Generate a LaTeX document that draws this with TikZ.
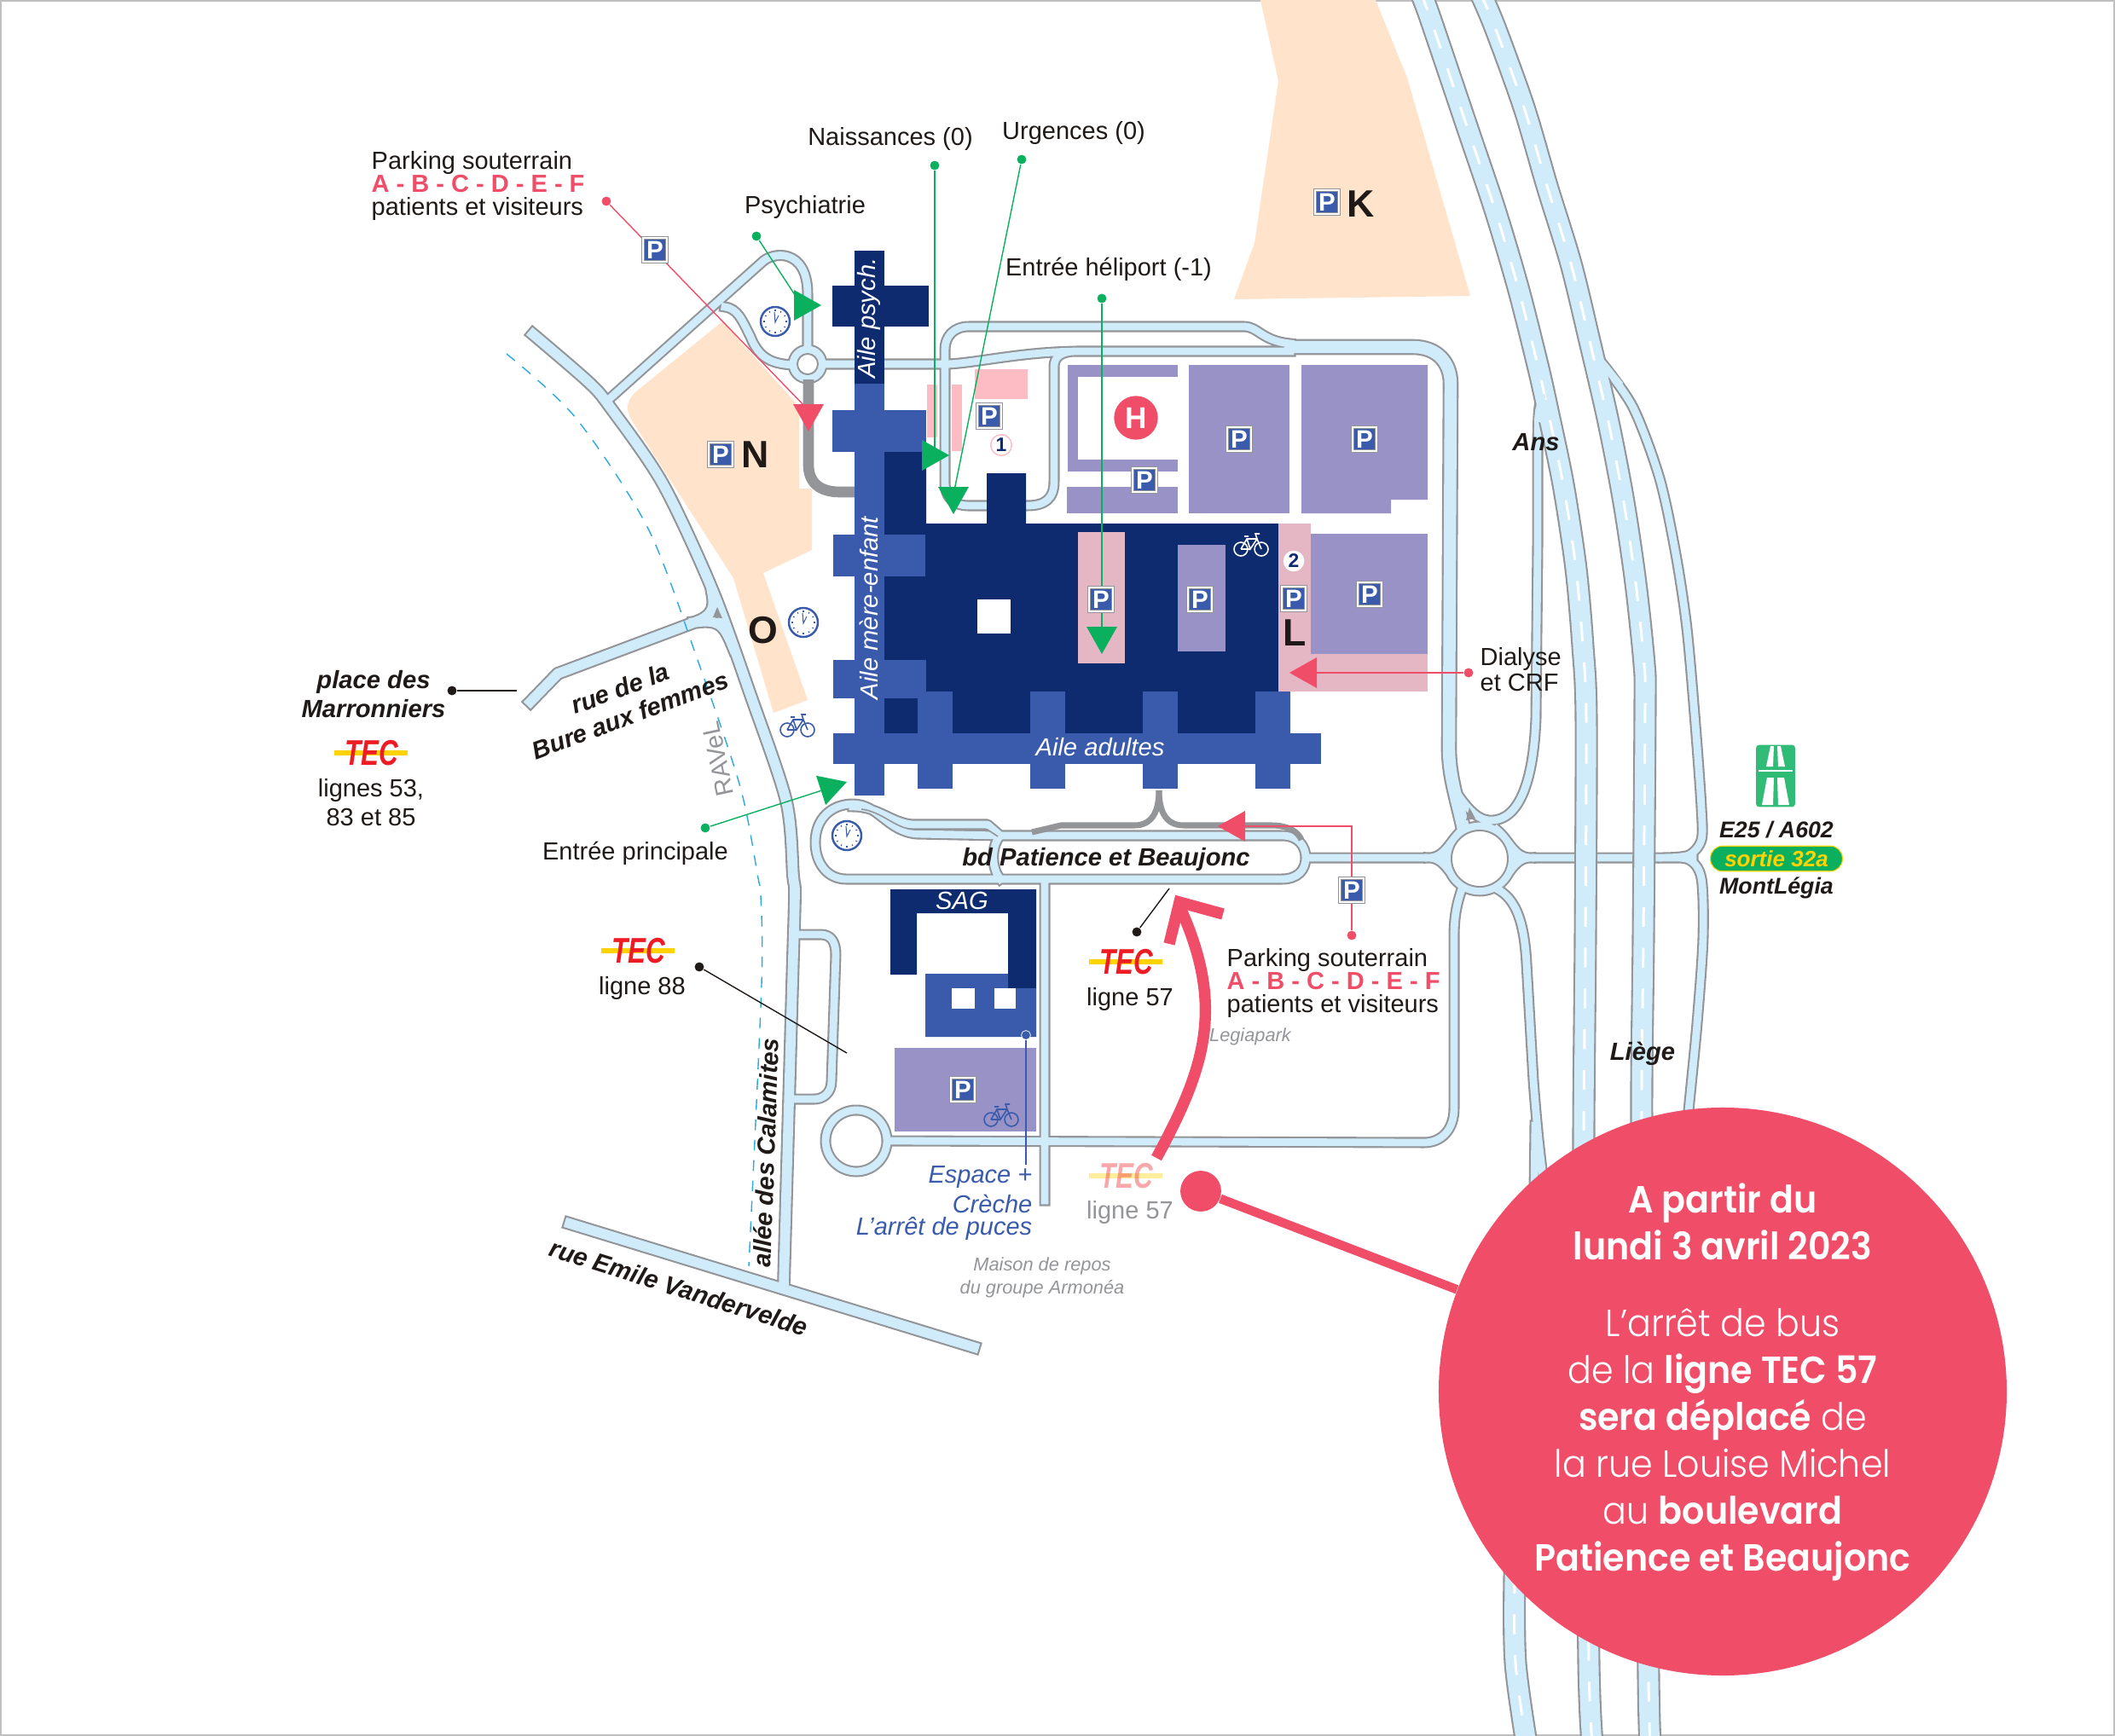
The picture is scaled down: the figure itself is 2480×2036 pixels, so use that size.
\documentclass[tikz,border=0pt]{standalone}
\usepackage{fontspec}
\setmainfont{Liberation Sans}
\newfontfamily\circlefont[FakeStretch=0.93, UprightFont={* Light}, BoldFont={* SemiBold}]{Poppins}
\usetikzlibrary{shapes, arrows.meta}
\definecolor{roadblue}{HTML}{D0EBFA}
\definecolor{roadgray}{HTML}{939598}
\definecolor{navywing}{HTML}{0D2B6E}
\definecolor{bluewing}{HTML}{3A5BAB}
\definecolor{lilac}{HTML}{9892C6}
\definecolor{rosewing}{HTML}{E5B7C5}
\definecolor{softpink}{HTML}{FDBBC4}
\definecolor{beige}{HTML}{FFE3CB}
\definecolor{redder}{HTML}{F04E68}
\definecolor{greener}{HTML}{0BB05F}
\definecolor{inkblack}{HTML}{1F1A17}
\definecolor{ravelblue}{HTML}{29ABE2}
\definecolor{tecyellow}{HTML}{FFD200}
\definecolor{tecred}{HTML}{ED1C24}
\newcommand\narrowroads{
  (712,470) -- (893,308) .. controls (905,295) and (947,290) .. (947,345) -- (947,427)
  (850,360) .. controls (865,362) and (870,375) .. (880,395) .. controls (890,420) and (905,428) .. (935,428)
  (947,427) circle (17)
  (947,427) -- (1112,427) .. controls (1150,425) and (1200,412) .. (1270,412) -- (1513,412)
  (1513,403) .. controls (1480,400) and (1475,383) .. (1459,383) -- (1136,383) .. controls (1118,383) and (1108,395) .. (1108,410) -- (1108,565) .. controls (1108,585) and (1120,593) .. (1135,593) -- (1205,593) .. controls (1225,593) and (1236,585) .. (1236,565) -- (1236,430) .. controls (1236,418) and (1245,412) .. (1262,412)
  (1173,980) -- (1503,980) .. controls (1522,980) and (1531,992) .. (1531,1006) .. controls (1531,1020) and (1522,1031) .. (1503,1031) -- (992,1031) .. controls (970,1031) and (956,1012) .. (956,988) .. controls (956,960) and (975,943) .. (1000,943) .. controls (1030,943) and (1040,975) .. (1075,978) -- (1173,980)
  (1173,980) .. controls (1162,992) and (1162,1018) .. (1173,1031)
  (1000,946) .. controls (1030,946) and (1045,965) .. (1070,967) -- (1158,967) -- (1173,980)
  (1531,1006) -- (1985,1006)
  (1735,1007) circle (38)
  (1795,1006) .. controls (1775,1006) and (1770,985) .. (1755,973)
  (1795,1006) .. controls (1775,1006) and (1770,1028) .. (1755,1040)
  (1675,1006) .. controls (1695,1006) and (1700,985) .. (1715,973)
  (1675,1006) .. controls (1695,1006) and (1700,1028) .. (1715,1040)
  (1715,1040) .. controls (1708,1060) and (1705,1075) .. (1705,1100) -- (1705,1300) .. controls (1705,1325) and (1690,1340) .. (1670,1340) -- (1040,1338)
  (1750,1040) .. controls (1775,1050) and (1787,1075) .. (1790,1130) -- (1798,1267) .. controls (1802,1320) and (1806,1360) .. (1812,1400)
  (1800,1320) -- (1799,1400)
  (1004,1338) circle (36)
  (1225,1031) -- (1225,1408)
  (937,1096) -- (962,1096) .. controls (975,1096) and (980,1105) .. (980,1120) -- (975,1268) .. controls (975,1282) and (965,1289) .. (955,1289) -- (925,1289)
  (1808,462) .. controls (1803,480) and (1803,500) .. (1803,560) -- (1803,640) -- (1801,842) .. controls (1798,920) and (1780,965) .. (1745,962) .. controls (1730,960) and (1718,945) .. (1705,925)
  plot[smooth] coordinates {(1878,425) (1915,478) (1946,561) (1965,650) (1978,737) (1988,850) (1995,947) (1995,985) (1980,1003) (1950,1006)}
  plot[smooth] coordinates {(1950,1006) (1980,1008) (1995,1030) (1997,1100) (1990,1200) (1980,1303) (1975,1360)}
}
\newcommand\mediumroads{
  plot[smooth] coordinates {(625,392) (690,448) (715,477) (777,567) (835,691) (880,815) (922,940) (930,1027) (932,1050) (929,1155) (919,1506)}
  (622,823) -- (654,790) -- (814,730) .. controls (838,722) and (838,710) .. (835,695)
  (814,730) .. controls (845,725) and (850,735) .. (860,760)
  (668,1435) -- (1142,1580)
}
\newcommand\wideroads{
  (1513,407) -- (1657,407) .. controls (1685,407) and (1701,425) .. (1701,450) -- (1699,877) .. controls (1699,910) and (1708,935) .. (1716,972)
}
\newcommand\hwaylanes{
  plot[smooth] coordinates {(1665,-10) (1676,18) (1721,151) (1753,246) (1780,337) (1803,428) (1814,477) (1833,568) (1848,667) (1856,758) (1860,842) (1859,1100) (1857,1350) (1860,1600) (1863,1950) (1867,2045)}
  plot[smooth] coordinates {(1735,-10) (1753,32) (1787,126) (1814,218) (1842,309) (1864,400) (1886,495) (1904,589) (1918,684) (1928,779) (1929,828) (1927,1100) (1925,1317) (1930,1600) (1933,1967) (1935,2045)}
  plot[smooth] coordinates {(1780,1750) (1776,1850) (1777,1950) (1790,2045)}
}
\tikzset{
  roadedge/.style={draw=roadgray, line cap=rect, line join=round},
  roadfill/.style={draw=roadblue, line cap=rect, line join=round},
  lanemark/.style={draw=white, line width=.85pt, dash pattern=on 6.6pt off 7pt},
  pbox/.style={draw=roadgray, line width=.25pt, double=white, double distance=.7pt, fill=bluewing, text=white, inner sep=0, minimum size=8pt, font=\fontsize{8.4}{8.4}\selectfont\bfseries},
  maptext/.style={text=inkblack, inner sep=0, align=center, font=\fontsize{8.25}{7.6}\selectfont},
  street/.style={text=inkblack, inner sep=0, align=center, font=\fontsize{8.3}{9.6}\selectfont\bfseries\itshape},
  signtext/.style={text=inkblack, inner sep=0, font=\fontsize{7.6}{7.6}\selectfont\bfseries\itshape},
  wing/.style={text=white, inner sep=0, font=\fontsize{8.3}{8.3}\selectfont\itshape},
  zone/.style={text=inkblack, inner sep=0, font=\fontsize{12.7}{12.7}\selectfont\bfseries},
  greytext/.style={text=roadgray, inner sep=0, align=center, font=\fontsize{6.2}{7.6}\selectfont\itshape},
  leadgreen/.style={draw=greener, line width=.4pt},
  leadred/.style={draw=redder, line width=.4pt},
  leadblack/.style={draw=inkblack, line width=.4pt},
  spot/.style={circle, inner sep=0, minimum size=3.1pt, fill=#1},
  head/.pic={\fill[pic actions] (0,0) -- (-32,18) -- (-32,-18) -- cycle;},
  teclogo/.pic={
    \fill[tecyellow] (-43,-3) rectangle (43,3);
    \node[xscale=.75, inner sep=0, text=tecred, font=\fontsize{11.9}{11.9}\selectfont\bfseries\itshape] at (1,0) {TEC};},
  bike/.pic={
    \draw[pic actions, line width=.45pt] (-12,6) circle (8) (12,6) circle (8) (-12,6) -- (-5,-6) -- (7,-6) -- (12,6) (-5,-6) -- (-1,6) -- (7,-6) (-1,6) -- (-12,6) (7,-6) -- (5,-12) -- (10,-12) (-8,-9) -- (-3,-9);},
  clock/.pic={
    \draw[draw=bluewing, fill=white, line width=.7pt] (0,0) circle (17);
    \foreach \a in {0,30,...,330} {\draw[bluewing, line width=.3pt] (\a:12) -- (\a:14);}
    \draw[bluewing, line width=.3pt] (-1,-11) -- (0,1) -- (4,-7);},
}
\begin{document}
\begin{tikzpicture}[x=.01cm, y=-.01cm]
  \useasboundingbox (0,0) rectangle (2480,2036);
  \draw[draw=black!25, fill=white, line width=.4pt] (1,1) rectangle (2479,2035);

  \fill[beige] (1478,0) -- (1613,0) -- (1650,91) -- (1724,347) -- (1447,351) -- (1471,285) -- (1499,95) -- cycle;
  \fill[beige] (847,377) -- (937,477) -- (937,573) -- (952,573) -- (952,645) -- (895,672) -- (947,821) -- (907,836) -- (860,678) -- (742,495) .. controls (732,480) and (735,470) .. (745,460) -- cycle;

  \draw[roadedge, line width=3.7pt] \narrowroads;
  \draw[roadedge, line width=4.5pt] \mediumroads;
  \draw[roadedge, line width=5.3pt] \wideroads;
  \draw[roadfill, line width=2.5pt] \narrowroads;
  \draw[roadfill, line width=3.3pt] \mediumroads;
  \draw[roadfill, line width=4.1pt] \wideroads;
  \fill[roadblue] (1795,1006) .. controls (1775,1006) and (1770,985) .. (1755,973) -- (1755,1040) .. controls (1770,1028) and (1775,1006) .. (1795,1006) -- cycle;
  \fill[roadblue] (1675,1006) .. controls (1695,1006) and (1700,985) .. (1715,973) -- (1715,1040) .. controls (1700,1028) and (1695,1006) .. (1675,1006) -- cycle;
  \draw[draw=roadgray, fill=white, line width=.55pt] (1735,1007) circle (33);
  \draw[draw=roadgray, fill=white, line width=.55pt] (947,427) circle (12);
  \draw[roadgray, line width=.45pt] (1010,949) .. controls (1035,952) and (1050,972) .. (1072,973) -- (1158,973) -- (1170,981);
  \fill[roadgray] (1719,962) -- (1723,947) -- (1730,960) -- cycle;
  \fill[roadgray] (836,724) -- (841,712) -- (847,725) -- cycle;

  \draw[draw=roadgray, line width=7.7pt] \hwaylanes;
  \draw[draw=roadblue, line width=6.5pt] \hwaylanes;
  \draw[lanemark] \hwaylanes;
  \draw[draw=roadblue, line width=2.5pt] (1878,425) -- (1900,452);
  \draw[draw=roadblue, line width=2.5pt] (1808,462) -- (1803,495);

  \draw[draw=roadgray, line width=3.6pt, line join=round] (948,445) -- (948,545) .. controls (948,565) and (960,577) .. (985,577) -- (1002,577);
  \draw[draw=roadgray, line width=2pt] (1359,927) .. controls (1359,950) and (1352,968) .. (1330,968) -- (1244,968) -- (1210,976);
  \draw[draw=roadgray, line width=2pt] (1359,927) .. controls (1359,950) and (1366,968) .. (1388,968) -- (1491,968) .. controls (1510,968) and (1522,975) .. (1526,985);

  \draw[draw=ravelblue, line width=.4pt, dash pattern=on 3.6pt off 3.2pt] plot[smooth] coordinates {(594,415) (675,490) (760,620) (818,774) (868,923) (889,1030) (892,1050) (893,1155) (878,1485)};

  \fill[softpink] (1087,451) rectangle (1099,513);
  \fill[softpink] (1116,451) rectangle (1128,529);
  \fill[softpink] (1143,433) rectangle (1205,468);
  \fill[lilac] (1252,428) rectangle (1381,442);
  \fill[lilac] (1252,428) rectangle (1264,553);
  \fill[lilac] (1252,539) rectangle (1381,553);
  \fill[lilac] (1251,571) rectangle (1381,602);
  \fill[lilac] (1394,428) rectangle (1512,602);
  \fill[lilac] (1526,428) -- (1674,428) -- (1674,586) -- (1631,586) -- (1631,602) -- (1526,602) -- cycle;

  \fill[navywing] (1037,530) -- (1086,530) -- (1086,614) -- (1157,614) -- (1157,555) -- (1203,555) -- (1203,614) -- (1499,614) -- (1499,811) -- (1472,811) -- (1472,860) -- (1037,860) -- cycle;
  \fill[bluewing] (977,860) rectangle (1549,896);
  \fill[bluewing] (1002,450) rectangle (1037,933);
  \fill[bluewing] (976,481) rectangle (1086,530);
  \fill[bluewing] (977,627) rectangle (1085,676);
  \fill[bluewing] (977,774) rectangle (1086,819);
  \foreach \colx in {1076,1208,1340,1472} {\fill[bluewing] (\colx,811) rectangle (\colx+41,925);}
  \fill[navywing] (1038,819) rectangle (1076,860);
  \fill[navywing] (1002,294) rectangle (1037,450);
  \fill[navywing] (976,335) rectangle (1089,383);
  \fill[white] (1146,703) rectangle (1185,743);
  \fill[rosewing] (1264,624) rectangle (1319,778);
  \fill[lilac] (1381,639) rectangle (1437,764);
  \fill[rosewing] (1499,614) rectangle (1537,811);
  \fill[lilac] (1537,626) rectangle (1674,767);
  \fill[rosewing] (1537,767) rectangle (1674,811);

  \fill[navywing] (1044,1043) -- (1215,1043) -- (1215,1159) -- (1182,1159) -- (1182,1071) -- (1075,1071) -- (1075,1143) -- (1044,1143) -- cycle;
  \fill[bluewing] (1085,1142) -- (1182,1142) -- (1182,1159) -- (1215,1159) -- (1215,1216) -- (1085,1216) -- cycle;
  \fill[white] (1116,1159) rectangle (1143,1183);
  \fill[white] (1166,1159) rectangle (1191,1183);
  \fill[lilac] (1049,1229) rectangle (1215,1327);

  \node[circle, fill=redder, text=white, inner sep=0, minimum size=14.6pt, font=\fontsize{10}{10}\selectfont\bfseries] (hosp) at (1332,490) {H};

  \node[spot=greener] (dotnaiss) at (1096,194) {};
  \node[spot=greener] (doturg) at (1198,187) {};
  \node[spot=greener] (dotpsy) at (887,277) {};
  \node[spot=greener] (dothelip) at (1292,350) {};
  \node[spot=greener] (dotmain) at (827,971) {};
  \node[spot=redder] (dotnorth) at (711,236) {};
  \node[spot=redder] (dotsouth) at (1585,1097) {};
  \node[spot=redder] (dotdial) at (1722,789) {};
  \node[spot=inkblack] (dotplace) at (530,810) {};
  \node[spot=inkblack] (dotl88) at (820,1134) {};
  \node[spot=inkblack] (dotl57) at (1333,1093) {};
  \node[spot=bluewing, draw=white, line width=.2pt] (dotesp) at (1203,1214) {};
  \coordinate (tipnaiss) at (1096,532);
  \coordinate (tipurg) at (1118,580);
  \coordinate (tippsy) at (940,358);
  \coordinate (tiphelip) at (1292,740);
  \coordinate (tipmain) at (970,925);
  \coordinate (tipnorth) at (947,480);
  \coordinate (elbsouth) at (1585,969);
  \coordinate (tipsouth) at (1445,969);
  \coordinate (tipdial) at (1530,789);
  \coordinate (endplace) at (606,810);
  \coordinate (endl88) at (993,1235);
  \coordinate (endl57) at (1371,1042);
  \coordinate (endesp) at (1203,1366);

  \draw[leadgreen] (dotnaiss) -- (tipnaiss);
  \draw[leadgreen] (doturg) -- (tipurg);
  \draw[leadgreen] (dotpsy) -- (tippsy);
  \draw[leadgreen] (dothelip) -- (tiphelip);
  \draw[leadgreen] (dotmain) -- (tipmain);
  \draw[leadred] (dotnorth) -- (tipnorth);
  \draw[leadred] (dotsouth) -- (elbsouth) -- (tipsouth);
  \draw[leadred] (dotdial) -- (tipdial);
  \draw[leadblack] (dotplace) -- (endplace);
  \draw[leadblack] (dotl88) -- (endl88);
  \draw[leadblack] (dotl57) -- (endl57);
  \draw[draw=bluewing, line width=.5pt] (dotesp) -- (endesp);

  \pic[fill=greener] at (1113,534) {head};
  \pic[fill=greener, rotate=-90] at (1118,603) {head};
  \pic[fill=greener] at (963,358) {head};
  \pic[fill=greener, rotate=-90] at (1292,767) {head};
  \pic[fill=greener, rotate=18] at (993,917) {head};
  \pic[fill=redder, rotate=-90] at (948,506) {head};
  \pic[fill=redder, rotate=180] at (1428,969) {head};
  \pic[fill=redder, rotate=180] at (1512,789) {head};

  \node[pbox] (pnorth) at (768,293) {P};
  \node[pbox] (pn) at (845,533) {P};
  \node[pbox] (pk) at (1556,237) {P};
  \node[pbox] (pone) at (1160,488) {P};
  \node[pbox] (phosp) at (1342,563) {P};
  \node[pbox] (pa) at (1453,515) {P};
  \node[pbox] (pb) at (1600,515) {P};
  \node[pbox] (pc) at (1291,703) {P};
  \node[pbox] (pd) at (1407,703) {P};
  \node[pbox] (pe) at (1517,702) {P};
  \node[pbox] (pf) at (1606,697) {P};
  \node[pbox] (psouth) at (1585,1044) {P};
  \node[pbox] (psag) at (1129,1278) {P};

  \node[zone] (zonen) at (886,533) {N};
  \node[zone] (zonek) at (1596,239) {K};
  \node[zone] (zoneo) at (895,739) {O};
  \node[zone] (zonel) at (1518,742) {L};

  \node[circle, draw=softpink, fill=white, line width=.4pt, inner sep=0, minimum size=7pt, text=navywing, font=\fontsize{6.5}{6.5}\selectfont\bfseries] (numone) at (1174,522) {1};
  \node[circle, fill=white, inner sep=0, minimum size=7pt, text=navywing, font=\fontsize{6.5}{6.5}\selectfont\bfseries] (numtwo) at (1517,658) {2};

  \pic[draw=white] at (1467,638) {bike};
  \pic[draw=bluewing] at (935,850) {bike};
  \pic[draw=bluewing] at (1174,1307) {bike};
  \pic at (909,377) {clock};
  \pic at (942,730) {clock};
  \pic at (993,980) {clock};

  \pic at (435,883) {teclogo};
  \pic at (748,1115) {teclogo};
  \pic at (1320,1128) {teclogo};
  \pic[opacity=.38] at (1320,1379) {teclogo};

  \node[wing, rotate=90] (wpsych) at (1019,373) {Aile psych.};
  \node[wing, rotate=90] (wmere) at (1019,713) {Aile mère-enfant};
  \node[wing] (wadult) at (1290,876) {Aile adultes};
  \node[wing] (wsag) at (1128,1056) {SAG};

  \node[maptext, align=left, anchor=west] (parknorth) at (435,218) {Parking souterrain\\{\color{redder}\bfseries A - B - C - D - E - F}\\patients et visiteurs};
  \node[maptext, align=left, anchor=west] (parksouth) at (1438,1153) {Parking souterrain\\{\color{redder}\bfseries A - B - C - D - E - F}\\patients et visiteurs};
  \node[maptext] (naiss) at (1044,163) {Naissances (0)};
  \node[maptext] (urg) at (1259,156) {Urgences (0)};
  \node[maptext] (psy) at (944,243) {Psychiatrie};
  \node[maptext] (helip) at (1300,316) {Entrée héliport (-1)};
  \node[maptext] (mainent) at (745,1001) {Entrée principale};
  \node[maptext, align=left, anchor=west, font=\fontsize{8.25}{8.5}\selectfont] (dialyse) at (1735,785) {Dialyse\\et CRF};
  \node[maptext, font=\fontsize{8.25}{9.6}\selectfont] (l53) at (435,941) {lignes 53,\\83 et 85};
  \node[maptext] (l88) at (753,1159) {ligne 88};
  \node[maptext] (l57) at (1325,1172) {ligne 57};
  \node[maptext, text=roadgray] (l57old) at (1325,1422) {ligne 57};
  \node[maptext, text=roadgray, rotate=102] (ravel) at (842,890) {RAVeL};
  \node[greytext] (legia) at (1466,1216) {Legiapark};
  \node[greytext] (maison) at (1222,1498) {Maison de repos\\du groupe Armonéa};
  \node[maptext, text=bluewing, anchor=east, font=\fontsize{8.25}{7.6}\selectfont\itshape] (espace) at (1211,1381) {Espace +};
  \node[maptext, text=bluewing, align=right, anchor=east, font=\fontsize{8.25}{7.4}\selectfont\itshape] (creche) at (1211,1428) {Crèche\\L’arrêt de puces};

  \node[street] (place) at (438,814) {place des\\Marronniers};
  \node[street, rotate=20.5] (bure) at (733,823) {rue de la\\Bure aux femmes};
  \node[street] (ans) at (1801,519) {Ans};
  \node[street] (liege) at (1926,1236) {Liège};
  \node[street, rotate=88] (allee) at (898,1352) {allée des Calamites};
  \node[street, rotate=-17.5, font=\fontsize{8.4}{8.4}\selectfont\bfseries\itshape] (emile) at (796,1510) {rue Emile Vandervelde};
  \node[street] (bdpat) at (1297,1008) {bd Patience et Beaujonc};

  \node[rectangle, rounded corners=1pt, fill=greener!85!white, minimum width=13pt, minimum height=20.7pt, inner sep=0] (signbox) at (2082,910) {};
  \fill[white] (2066,944) -- (2079,944) -- (2080,912) -- (2072,912) -- cycle;
  \fill[white] (2098,944) -- (2085,944) -- (2084,912) -- (2092,912) -- cycle;
  \fill[white] (2071,899) -- (2079,899) -- (2080,875) -- (2076,875) -- cycle;
  \fill[white] (2093,899) -- (2085,899) -- (2084,875) -- (2088,875) -- cycle;
  \draw[white, line width=.5pt] (2062,904) -- (2102,904);
  \node[signtext] (e25) at (2083,973) {E25 / A602};
  \node[rectangle, rounded corners=4pt, fill=greener, draw=tecyellow, line width=.3pt, minimum width=44pt, minimum height=8.4pt, inner sep=0, text=tecyellow, font=\fontsize{7.4}{7.4}\selectfont\bfseries\itshape] (sortie) at (2083,1007) {sortie 32a};
  \node[signtext] (montleg) at (2083,1041) {MontLégia};

  \draw[draw=redder, line width=3.8pt, line cap=butt] (1356,1358) .. controls (1415,1250) and (1435,1180) .. (1385,1067);
  \draw[draw=redder, line width=3.8pt, miter limit=10] (1371,1107) -- (1383,1058) -- (1434,1072);

  \node[circle, fill=redder, inner sep=0, minimum size=13.6pt] (olddot) at (1408,1397) {};
  \node[circle, fill=redder, inner sep=0, minimum size=189.4pt] (notice) at (2020,1632) {};
  \draw[draw=redder, line width=3pt] (olddot) -- (notice);
  \node[text=white, inner sep=0, align=center, font=\circlefont\fontsize{12.6}{15.6}\selectfont] (noticetext) at (2020,1621) {{\bfseries A partir du}\\{\bfseries lundi 3 avril 2023}\\[10pt]L’arrêt de bus\\de la {\bfseries ligne TEC 57}\\{\bfseries sera déplacé} de\\la rue Louise Michel\\au {\bfseries boulevard}\\{\bfseries Patience et Beaujonc}};
\end{tikzpicture}
\end{document}
